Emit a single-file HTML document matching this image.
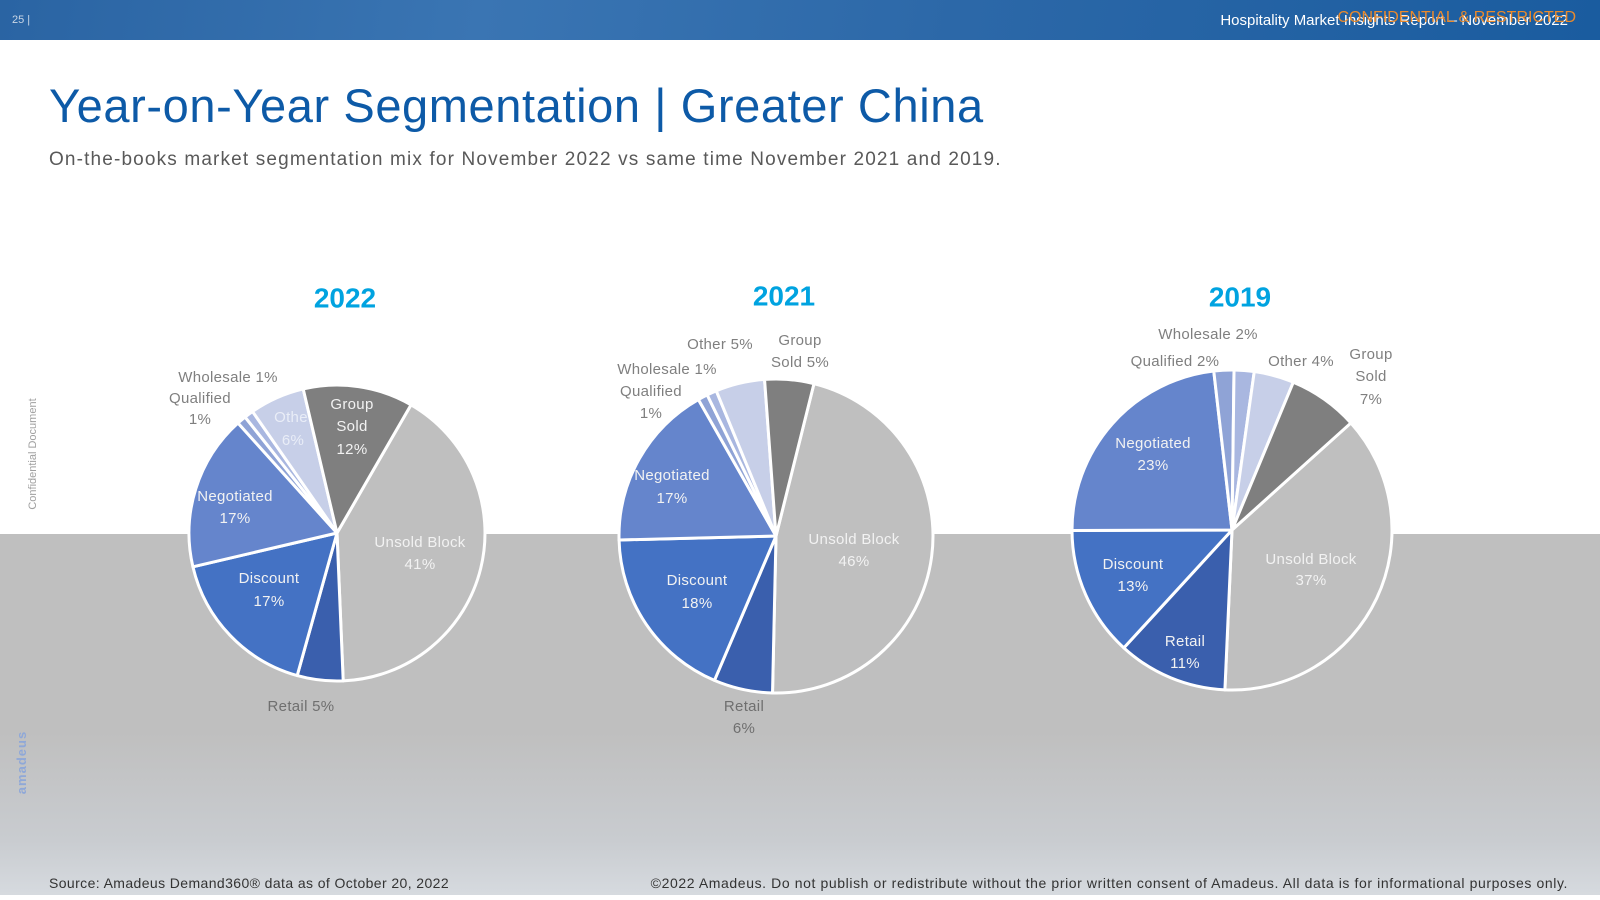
<!DOCTYPE html>
<html><head><meta charset="utf-8"><style>
body{margin:0;width:1600px;height:900px;overflow:hidden;background:#fff;font-family:"Liberation Sans",sans-serif;position:relative}
.abs{position:absolute}
</style></head><body>
<div class="abs" style="left:0;top:0;width:1600px;height:40px;background:linear-gradient(100deg,#2a64a3 0%,#3a75b3 30%,#2c68a8 60%,#1a5c9f 100%)"></div>
<div class="abs" style="left:12px;top:14px;font-size:11px;color:#c9d6e6">25 |</div>
<div class="abs" style="right:32px;top:12px;font-size:15px;color:#fff">Hospitality Market Insights Report – November 2022</div>
<div class="abs" style="right:24px;top:9px;font-size:16px;color:#e98a2d">CONFIDENTIAL &amp; RESTRICTED</div>
<div class="abs" style="left:0;top:534px;width:1600px;height:361px;background:linear-gradient(180deg,#bfbfbf 0%,#bfbfbf 55%,#c9ccd0 85%,#d6dadf 100%)"></div>
<div class="abs" style="left:49px;top:78px;font-size:47px;color:#0d5aa7;letter-spacing:0.6px">Year-on-Year Segmentation | Greater China</div>
<div class="abs" style="left:49px;top:149px;font-size:19px;color:#595959;letter-spacing:1.15px">On-the-books market segmentation mix for November 2022 vs same time November 2021 and 2019.</div>
<div class="abs" style="left:-32px;top:448px;font-size:11px;color:#a0a0a0;transform:rotate(-90deg);width:130px;text-align:center;white-space:nowrap">Confidential Document</div>
<div class="abs" style="left:-10px;top:755px;font-size:13px;font-weight:bold;letter-spacing:1px;color:#8fa8d8;transform:rotate(-90deg)">amadeus</div>
<svg class="abs" style="left:0;top:0" width="1600" height="900" id="chart"></svg>
<div class="abs" style="left:49px;top:875px;font-size:14px;color:#333;letter-spacing:0.4px">Source: Amadeus Demand360® data as of October 20, 2022</div>
<div class="abs" style="right:32px;top:875px;font-size:14px;color:#333;letter-spacing:0.6px">©2022 Amadeus. Do not publish or redistribute without the prior written consent of Amadeus. All data is for informational purposes only.</div>
<script>
const segments=["Unsold Block","Retail","Discount","Negotiated","Qualified","Wholesale","Other","Group Sold"];
const values2022=[41,5,17,17,1,1,6,12];
const values2021=[46,6,18,17,1,1,5,5];
const values2019=[37,11,13,23,2,2,4,7];
const years=["2022","2021","2019"];
const colors=["#bfbfbf","#3a5fad","#4472c4","#6585cc","#8fa3d6","#a9b7e0","#c7cfe8","#7f7f7f"];
const pies=[{v:values2022,cx:337,cy:533,r:148,rot:30,ty:300},{v:values2021,cx:776,cy:536,r:157,rot:14,ty:298},{v:values2019,cx:1232,cy:530,r:160,rot:48,ty:299}];
const labels=[
[["Wholesale 1%",228,378,"#7f7f7f"],["Qualified",200,399,"#7f7f7f"],["1%",200,420,"#7f7f7f"],["Othe",291,418,"#e9edf7"],["6%",293,441,"#e9edf7"],["Group",352,405,"#f2f2f2"],["Sold",352,427,"#f2f2f2"],["12%",352,450,"#f2f2f2"],["Unsold Block",420,543,"#f2f2f2"],["41%",420,565,"#f2f2f2"],["Negotiated",235,497,"#f2f2f2"],["17%",235,519,"#f2f2f2"],["Discount",269,579,"#f2f2f2"],["17%",269,602,"#f2f2f2"],["Retail 5%",301,707,"#6f6f6f"]],
[["Other 5%",720,345,"#7f7f7f"],["Group",800,341,"#7f7f7f"],["Sold 5%",800,363,"#7f7f7f"],["Wholesale 1%",667,370,"#7f7f7f"],["Qualified",651,392,"#7f7f7f"],["1%",651,414,"#7f7f7f"],["Negotiated",672,476,"#f2f2f2"],["17%",672,499,"#f2f2f2"],["Unsold Block",854,540,"#f2f2f2"],["46%",854,562,"#f2f2f2"],["Discount",697,581,"#f2f2f2"],["18%",697,604,"#f2f2f2"],["Retail",744,707,"#6f6f6f"],["6%",744,729,"#6f6f6f"]],
[["Wholesale 2%",1208,335,"#7f7f7f"],["Qualified 2%",1175,362,"#7f7f7f"],["Other 4%",1301,362,"#7f7f7f"],["Group",1371,355,"#7f7f7f"],["Sold",1371,377,"#7f7f7f"],["7%",1371,400,"#7f7f7f"],["Negotiated",1153,444,"#f2f2f2"],["23%",1153,466,"#f2f2f2"],["Unsold Block",1311,560,"#f2f2f2"],["37%",1311,581,"#f2f2f2"],["Discount",1133,565,"#f2f2f2"],["13%",1133,587,"#f2f2f2"],["Retail",1185,642,"#f2f2f2"],["11%",1185,664,"#f2f2f2"]]
];
const NS="http://www.w3.org/2000/svg";
const svg=document.getElementById('chart');
function pt(cx,cy,r,a){const t=a*Math.PI/180;return [cx+r*Math.sin(t),cy-r*Math.cos(t)];}
pies.forEach((p,pi)=>{
  const total=p.v.reduce((a,b)=>a+b,0);
  let a=p.rot;
  const g=document.createElementNS(NS,'g');
  
  
  svg.appendChild(g);
  p.v.forEach((v,i)=>{
    const sweep=v/total*360;
    const [x1,y1]=pt(p.cx,p.cy,p.r,a),[x2,y2]=pt(p.cx,p.cy,p.r,a+sweep);
    const path=document.createElementNS(NS,'path');
    path.setAttribute('d',`M${p.cx},${p.cy}L${x1},${y1}A${p.r},${p.r} 0 ${sweep>180?1:0} 1 ${x2},${y2}Z`);
    path.setAttribute('fill',colors[i]);
    path.setAttribute('stroke','#fff');
    path.setAttribute('stroke-width','3');
    path.setAttribute('stroke-linejoin','round');
    
    
    g.appendChild(path);
    a+=sweep;
  });
  const t=document.createElementNS(NS,'text');
  t.setAttribute('x',p.cx+8);t.setAttribute('y',p.ty);
  t.setAttribute('text-anchor','middle');t.setAttribute('dominant-baseline','middle');
  t.setAttribute('font-size','28');t.setAttribute('font-weight','bold');t.setAttribute('fill','#00a3e0');
  
  
  t.textContent=years[pi];svg.appendChild(t);
  labels[pi].forEach(l=>{
    const e=document.createElementNS(NS,'text');
    e.setAttribute('x',l[1]);e.setAttribute('y',l[2]);
    e.setAttribute('text-anchor','middle');e.setAttribute('dominant-baseline','middle');
    e.setAttribute('font-size','15');e.setAttribute('fill',l[3]);e.setAttribute('letter-spacing','0.3');
    
    
    e.textContent=l[0];svg.appendChild(e);
  });
});
</script>
</body></html>
